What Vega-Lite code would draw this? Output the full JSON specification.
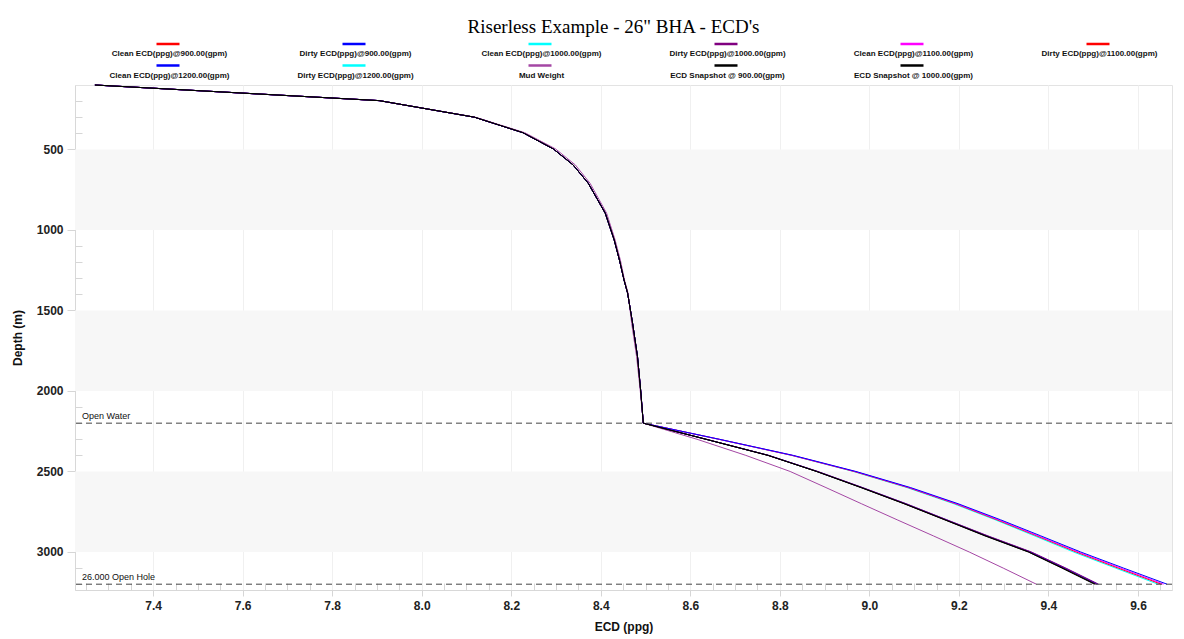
{
  "$schema": "https://vega.github.io/schema/vega-lite/v6.json",
  "autosize": {"type": "none"},
  "width": 1097,
  "height": 505,
  "padding": {"left": 75, "top": 85, "right": 12, "bottom": 49},
  "background": "white",
  "title": {"text": "Riserless Example - 26\" BHA - ECD's", "font": "Liberation Serif", "fontSize": 19, "fontWeight": "normal", "color": "#000", "anchor": "middle", "frame": "group", "offset": 4, "dx": -10},
  "datasets": {
    "curves": [
      {"d":100,"C900":7.270,"D900":7.270,"C1000":7.270,"D1000":7.270,"C1100":7.270,"D1100":7.270,"C1200":7.270,"D1200":7.270,"MW":7.270,"S900":7.270,"S1000":7.270},
      {"d":197,"C900":7.905,"D900":7.905,"C1000":7.905,"D1000":7.905,"C1100":7.905,"D1100":7.905,"C1200":7.905,"D1200":7.905,"MW":7.905,"S900":7.905,"S1000":7.905},
      {"d":300,"C900":8.118,"D900":8.118,"C1000":8.118,"D1000":8.118,"C1100":8.118,"D1100":8.118,"C1200":8.118,"D1200":8.118,"MW":8.120,"S900":8.118,"S1000":8.118},
      {"d":396,"C900":8.226,"D900":8.226,"C1000":8.226,"D1000":8.226,"C1100":8.226,"D1100":8.226,"C1200":8.226,"D1200":8.226,"MW":8.230,"S900":8.226,"S1000":8.226},
      {"d":497,"C900":8.294,"D900":8.294,"C1000":8.294,"D1000":8.294,"C1100":8.294,"D1100":8.294,"C1200":8.294,"D1200":8.294,"MW":8.299,"S900":8.294,"S1000":8.294},
      {"d":596,"C900":8.338,"D900":8.338,"C1000":8.338,"D1000":8.338,"C1100":8.338,"D1100":8.338,"C1200":8.338,"D1200":8.338,"MW":8.343,"S900":8.338,"S1000":8.338},
      {"d":710,"C900":8.372,"D900":8.372,"C1000":8.372,"D1000":8.372,"C1100":8.372,"D1100":8.372,"C1200":8.372,"D1200":8.372,"MW":8.376,"S900":8.372,"S1000":8.372},
      {"d":896,"C900":8.410,"D900":8.410,"C1000":8.410,"D1000":8.410,"C1100":8.410,"D1100":8.410,"C1200":8.410,"D1200":8.410,"MW":8.413,"S900":8.410,"S1000":8.410},
      {"d":1062,"C900":8.430,"D900":8.430,"C1000":8.430,"D1000":8.430,"C1100":8.430,"D1100":8.430,"C1200":8.430,"D1200":8.430,"MW":8.432,"S900":8.430,"S1000":8.430},
      {"d":1190,"C900":8.442,"D900":8.442,"C1000":8.442,"D1000":8.442,"C1100":8.442,"D1100":8.442,"C1200":8.442,"D1200":8.442,"MW":8.444,"S900":8.442,"S1000":8.442},
      {"d":1311,"C900":8.452,"D900":8.452,"C1000":8.452,"D1000":8.452,"C1100":8.452,"D1100":8.452,"C1200":8.452,"D1200":8.452,"MW":8.453,"S900":8.452,"S1000":8.452},
      {"d":1393,"C900":8.460,"D900":8.460,"C1000":8.460,"D1000":8.460,"C1100":8.460,"D1100":8.460,"C1200":8.460,"D1200":8.460,"MW":8.461,"S900":8.460,"S1000":8.460},
      {"d":1580,"C900":8.471,"D900":8.471,"C1000":8.471,"D1000":8.471,"C1100":8.471,"D1100":8.471,"C1200":8.471,"D1200":8.471,"MW":8.469,"S900":8.471,"S1000":8.471},
      {"d":1787,"C900":8.482,"D900":8.482,"C1000":8.482,"D1000":8.482,"C1100":8.482,"D1100":8.482,"C1200":8.482,"D1200":8.482,"MW":8.480,"S900":8.482,"S1000":8.482},
      {"d":1994,"C900":8.489,"D900":8.489,"C1000":8.489,"D1000":8.489,"C1100":8.489,"D1100":8.489,"C1200":8.489,"D1200":8.489,"MW":8.488,"S900":8.489,"S1000":8.489},
      {"d":2200,"C900":8.495,"D900":8.495,"C1000":8.495,"D1000":8.495,"C1100":8.495,"D1100":8.495,"C1200":8.495,"D1200":8.495,"MW":8.495,"S900":8.495,"S1000":8.495},
      {"d":2300,"C900":8.635,"D900":8.635,"C1000":8.635,"D1000":8.636,"C1100":8.664,"D1100":8.664,"C1200":8.665,"D1200":8.663,"MW":8.615,"S900":8.635,"S1000":8.635},
      {"d":2400,"C900":8.774,"D900":8.775,"C1000":8.774,"D1000":8.775,"C1100":8.828,"D1100":8.827,"C1200":8.830,"D1200":8.826,"MW":8.724,"S900":8.773,"S1000":8.774},
      {"d":2500,"C900":8.883,"D900":8.884,"C1000":8.883,"D1000":8.885,"C1100":8.968,"D1100":8.966,"C1200":8.970,"D1200":8.964,"MW":8.823,"S900":8.882,"S1000":8.882},
      {"d":2600,"C900":8.983,"D900":8.984,"C1000":8.983,"D1000":8.985,"C1100":9.089,"D1100":9.087,"C1200":9.092,"D1200":9.084,"MW":8.903,"S900":8.981,"S1000":8.982},
      {"d":2700,"C900":9.079,"D900":9.081,"C1000":9.080,"D1000":9.082,"C1100":9.194,"D1100":9.192,"C1200":9.198,"D1200":9.188,"MW":8.982,"S900":9.077,"S1000":9.078},
      {"d":2800,"C900":9.170,"D900":9.172,"C1000":9.171,"D1000":9.173,"C1100":9.288,"D1100":9.285,"C1200":9.293,"D1200":9.281,"MW":9.062,"S900":9.168,"S1000":9.169},
      {"d":2900,"C900":9.261,"D900":9.263,"C1000":9.262,"D1000":9.265,"C1100":9.377,"D1100":9.374,"C1200":9.383,"D1200":9.369,"MW":9.143,"S900":9.258,"S1000":9.260},
      {"d":3000,"C900":9.358,"D900":9.360,"C1000":9.359,"D1000":9.362,"C1100":9.466,"D1100":9.462,"C1200":9.472,"D1200":9.456,"MW":9.223,"S900":9.355,"S1000":9.356},
      {"d":3100,"C900":9.434,"D900":9.437,"C1000":9.435,"D1000":9.439,"C1100":9.561,"D1100":9.556,"C1200":9.568,"D1200":9.550,"MW":9.299,"S900":9.430,"S1000":9.432},
      {"d":3200,"C900":9.507,"D900":9.510,"C1000":9.508,"D1000":9.512,"C1100":9.657,"D1100":9.652,"C1200":9.665,"D1200":9.645,"MW":9.373,"S900":9.503,"S1000":9.505}
    ],
    "bands": [
      {"top": 500, "bottom": 1000},
      {"top": 1500, "bottom": 2000},
      {"top": 2500, "bottom": 3000}
    ],
    "markers": [
      {"d": 2200, "label": "Open Water"},
      {"d": 3200, "label": "26.000 Open Hole"}
    ]
  },
  "resolve": {"scale": {"x": "shared", "y": "shared"}, "axis": {"x": "independent", "y": "independent"}},
  "layer": [
    {
      "data": {"name": "bands"},
      "mark": {"type": "rect", "color": "#F7F7F7"},
      "encoding": {
        "y": {"field": "top", "type": "quantitative", "axis": null},
        "y2": {"field": "bottom"}
      }
    },
    {
      "data": {"name": "curves"},
      "transform": [
        {"fold": ["C1000", "D1200", "C900", "D1100", "C1100", "D900", "D1000", "C1200", "MW", "S900", "S1000"], "as": ["series", "ecd"]}
      ],
      "mark": {"type": "line", "strokeWidth": 1, "interpolate": "linear"},
      "encoding": {
        "x": {
          "field": "ecd", "type": "quantitative", "title": "ECD (ppg)",
          "scale": {"domain": [7.2255, 9.676], "nice": false, "zero": false},
          "axis": {
            "orient": "bottom",
            "values": [7.4, 7.6, 7.8, 8.0, 8.2, 8.4, 8.6, 8.8, 9.0, 9.2, 9.4, 9.6],
            "format": ".1f",
            "labelOverlap": false,
            "tickSize": 6,
            "grid": true,
            "gridColor": "#F0F0F0",
            "labelPadding": 4,
            "titlePadding": 10,
            "labelFlush": false
          }
        },
        "y": {
          "field": "d", "type": "quantitative", "title": "Depth (m)",
          "scale": {"domain": [100, 3236], "reverse": true, "nice": false, "zero": false},
          "axis": {
            "orient": "left",
            "values": [500, 1000, 1500, 2000, 2500, 3000],
            "format": "d",
            "labelOverlap": false,
            "tickSize": 8,
            "grid": false,
            "labelPadding": 4,
            "titlePadding": 12,
            "labelFlush": false
          }
        },
        "order": {"field": "d", "type": "quantitative"},
        "color": {
          "field": "series", "type": "nominal",
          "scale": {
            "domain": ["C900", "D900", "C1000", "D1000", "C1100", "D1100", "C1200", "D1200", "MW", "S900", "S1000"],
            "range": ["#FF0000", "#0000FF", "#00FFFF", "#800080", "#FF00FF", "#FF0000", "#0000FF", "#00FFFF", "#A447A4", "#000000", "#000000"]
          },
          "legend": {
            "title": null,
            "orient": "none",
            "legendX": 80,
            "legendY": -44,
            "direction": "horizontal",
            "columns": 6,
            "gridAlign": "all",
            "columnPadding": 65,
            "rowPadding": 1.5,
            "padding": 0,
            "symbolType": "M-1,-0.87L1,-0.87",
            "symbolSize": 529,
            "symbolStrokeWidth": 2.5,
            "labelAlign": "center",
            "labelBaseline": "middle",
            "labelOffset": -11.5,
            "labelFont": "Liberation Sans Narrow, Arial Narrow, Liberation Sans, sans-serif",
            "labelFontSize": 8,
            "labelFontWeight": "bold",
            "labelColor": "#111",
            "labelLimit": 200,
            "labelExpr": "{'C900':'Clean ECD(ppg)@900.00(gpm)','D900':'Dirty ECD(ppg)@900.00(gpm)','C1000':'Clean ECD(ppg)@1000.00(gpm)','D1000':'Dirty ECD(ppg)@1000.00(gpm)','C1100':'Clean ECD(ppg)@1100.00(gpm)','D1100':'Dirty ECD(ppg)@1100.00(gpm)','C1200':'Clean ECD(ppg)@1200.00(gpm)','D1200':'Dirty ECD(ppg)@1200.00(gpm)','MW':'Mud Weight','S900':'ECD Snapshot @ 900.00(gpm)','S1000':'ECD Snapshot @ 1000.00(gpm)'}[datum.label]"
          }
        }
      }
    },
    {
      "data": {"name": "markers"},
      "mark": {"type": "rule", "color": "#444444", "strokeWidth": 1, "strokeDash": [6, 4]},
      "encoding": {
        "y": {"field": "d", "type": "quantitative", "axis": null}
      }
    },
    {
      "data": {"name": "markers"},
      "mark": {"type": "text", "align": "left", "baseline": "bottom", "dx": 7, "dy": -2, "fontSize": 9, "font": "Liberation Sans Narrow, Arial Narrow, Liberation Sans, sans-serif", "color": "#111"},
      "encoding": {
        "x": {
          "datum": 7.2255, "type": "quantitative",
          "axis": {
            "orient": "bottom",
            "title": null,
            "values": [7.25,7.3,7.35,7.45,7.5,7.55,7.65,7.7,7.75,7.85,7.9,7.95,8.05,8.1,8.15,8.25,8.3,8.35,8.45,8.5,8.55,8.65,8.7,8.75,8.85,8.9,8.95,9.05,9.1,9.15,9.25,9.3,9.35,9.45,9.5,9.55,9.65],
            "labels": false,
            "domain": false,
            "grid": false,
            "tickSize": 7,
            "offset": -7
          }
        },
        "y": {
          "field": "d", "type": "quantitative",
          "axis": {
            "orient": "left",
            "title": null,
            "values": [200,300,400,600,700,800,900,1100,1200,1300,1400,1600,1700,1800,1900,2100,2200,2300,2400,2600,2700,2800,2900,3100,3200],
            "labels": false,
            "domain": false,
            "grid": false,
            "tickSize": 7,
            "offset": -7
          }
        },
        "text": {"field": "label", "type": "nominal"}
      }
    }
  ],
  "config": {
    "view": {"stroke": "#E3E3E3"},
    "axis": {
      "labelFont": "Liberation Sans",
      "titleFont": "Liberation Sans",
      "labelFontWeight": "bold",
      "titleFontWeight": "bold",
      "labelFontSize": 12,
      "titleFontSize": 12,
      "labelColor": "#222222",
      "titleColor": "#111111",
      "domainColor": "#D8D8D8",
      "tickColor": "#D6D6D6"
    }
  }
}
